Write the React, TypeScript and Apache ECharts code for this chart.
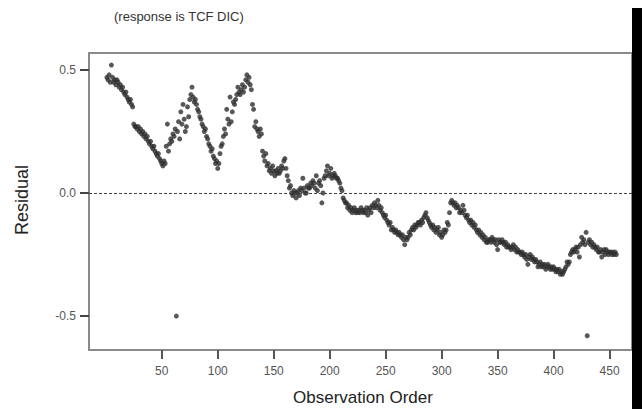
import React, { useEffect, useRef } from "react";
import * as echarts from "echarts";

// Residuals, observation order 1..456, in blocks of 50
const resA = [
  0.47, 0.46, 0.48, 0.45, 0.52, 0.47, 0.45, 0.46, 0.44, 0.46,
  0.45, 0.43, 0.44, 0.42, 0.43, 0.41, 0.40, 0.41, 0.39, 0.38,
  0.37, 0.38, 0.36, 0.35, 0.28, 0.27, 0.27, 0.26, 0.27, 0.25,
  0.26, 0.24, 0.25, 0.23, 0.24, 0.22, 0.23, 0.21, 0.20, 0.21,
  0.19, 0.18, 0.19, 0.17, 0.16, 0.15, 0.16, 0.14, 0.13, 0.12,
];
const resB = [
  0.11, 0.13, 0.12, 0.19, 0.28, 0.17, 0.20, 0.22, 0.21, 0.24,
  0.23, 0.26, -0.50, 0.25, 0.29, 0.22, 0.33, 0.28, 0.36, 0.30,
  0.25, 0.27, 0.35, 0.31, 0.38, 0.40, 0.43, 0.39, 0.37, 0.38,
  0.36, 0.34, 0.33, 0.31, 0.30, 0.28, 0.27, 0.25, 0.26, 0.23,
  0.22, 0.20, 0.19, 0.17, 0.18, 0.15, 0.14, 0.12, 0.13, 0.10,
];
const resC = [
  0.12, 0.16, 0.19, 0.20, 0.23, 0.26, 0.24, 0.34, 0.30, 0.28,
  0.39, 0.29, 0.33, 0.37, 0.36, 0.38, 0.40, 0.43, 0.41, 0.40,
  0.42, 0.44, 0.41, 0.43, 0.46, 0.48, 0.45, 0.47, 0.44, 0.42,
  0.36, 0.34, 0.27, 0.29, 0.26, 0.25, 0.23, 0.26, 0.24, 0.17,
  0.15, 0.13, 0.16, 0.11, 0.12, 0.09, 0.10, 0.08, 0.11, 0.09,
];
const resD = [
  0.07, 0.09, 0.08, 0.10, 0.08, 0.09, 0.11, 0.10, 0.13, 0.14,
  0.10, 0.07, 0.05, 0.02, 0.03, 0.00, -0.01, 0.01, 0.00, -0.02,
  0.00, 0.01, -0.01, 0.02, 0.01, 0.06, 0.02, 0.00, 0.00, 0.03,
  0.02, 0.02, 0.04, 0.03, 0.05, 0.04, 0.02, 0.07, 0.01, 0.04,
  0.05, 0.03, -0.04, 0.00, 0.06, 0.07, 0.09, 0.11, 0.07, 0.08,
];
const resE = [
  0.10, 0.06, 0.07, 0.08, 0.07, 0.06, 0.06, 0.05, 0.04, 0.02,
  0.01, -0.02, -0.03, -0.04, -0.04, -0.06, -0.05, -0.07, -0.06, -0.08,
  -0.07, -0.06, -0.08, -0.07, -0.08, -0.07, -0.08, -0.06, -0.07, -0.08,
  -0.07, -0.08, -0.06, -0.09, -0.07, -0.06, -0.08, -0.05, -0.06, -0.04,
  -0.05, -0.06, -0.03, -0.05, -0.07, -0.06, -0.08, -0.09, -0.10, -0.09,
];
const resF = [
  -0.11, -0.12, -0.13, -0.12, -0.15, -0.14, -0.15, -0.16, -0.15, -0.16,
  -0.17, -0.16, -0.17, -0.18, -0.17, -0.19, -0.21, -0.18, -0.19, -0.18,
  -0.16, -0.17, -0.15, -0.14, -0.15, -0.13, -0.14, -0.13, -0.12, -0.12,
  -0.13, -0.11, -0.12, -0.10, -0.09, -0.08, -0.10, -0.11, -0.12, -0.13,
  -0.14, -0.13, -0.15, -0.14, -0.16, -0.15, -0.14, -0.17, -0.16, -0.18,
];
const resG = [
  -0.17, -0.15, -0.16, -0.15, -0.12, -0.13, -0.08, -0.04, -0.03, -0.04,
  -0.05, -0.04, -0.06, -0.05, -0.06, -0.08, -0.07, -0.08, -0.05, -0.07,
  -0.09, -0.10, -0.09, -0.11, -0.12, -0.11, -0.13, -0.12, -0.14, -0.13,
  -0.15, -0.16, -0.15, -0.17, -0.16, -0.18, -0.17, -0.19, -0.18, -0.20,
  -0.20, -0.19, -0.19, -0.20, -0.18, -0.19, -0.20, -0.19, -0.21, -0.23,
];
const resH = [
  -0.19, -0.20, -0.20, -0.19, -0.20, -0.21, -0.20, -0.22, -0.21, -0.22,
  -0.22, -0.23, -0.22, -0.21, -0.23, -0.22, -0.24, -0.23, -0.24, -0.24,
  -0.25, -0.24, -0.25, -0.26, -0.25, -0.27, -0.29, -0.26, -0.25, -0.27,
  -0.26, -0.27, -0.28, -0.27, -0.28, -0.30, -0.29, -0.28, -0.30, -0.29,
  -0.30, -0.29, -0.31, -0.30, -0.29, -0.30, -0.31, -0.30, -0.31, -0.30,
];
const resI = [
  -0.31, -0.32, -0.31, -0.32, -0.31, -0.33, -0.32, -0.33, -0.32, -0.31,
  -0.30, -0.28, -0.29, -0.28, -0.25, -0.24, -0.23, -0.24, -0.23, -0.22,
  -0.24, -0.22, -0.26, -0.21, -0.18, -0.20, -0.19, -0.21, -0.16, -0.58,
  -0.20, -0.19, -0.21, -0.20, -0.22, -0.21, -0.22, -0.23, -0.22, -0.24,
  -0.24, -0.23, -0.26, -0.24, -0.23, -0.25, -0.23, -0.24, -0.25, -0.24,
  -0.24, -0.25, -0.24, -0.25, -0.24, -0.25,
];

const xTicks = [50, 100, 150, 200, 250, 300, 350, 400, 450];
const yTicks = [-0.5, 0.0, 0.5];
const titleText = "(response is TCF DIC)";
const xName = "Observation Order";
const yName = "Residual";

const residuals = [
  ...resA, ...resB, ...resC, ...resD, ...resE, ...resF, ...resG, ...resH, ...resI,
];

export default function App() {
  const ref = useRef<HTMLDivElement>(null);
  useEffect(() => {
    if (!ref.current) return;
    const chart = echarts.init(ref.current, null, { renderer: "svg" });
    const font = "'Liberation Sans', Arial, sans-serif";
    chart.setOption({
      animation: false,
      backgroundColor: "#ffffff",
      grid: {
        left: 89,
        right: 10,
        top: 53,
        bottom: 59,
        show: true,
        borderColor: "#8a8a8a",
        borderWidth: 2,
      },
      xAxis: {
        type: "value",
        min: -15,
        max: 470,
        axisLine: { show: true, onZero: false, lineStyle: { color: "#8a8a8a", width: 2 } },
        axisTick: {
          show: true,
          customValues: xTicks,
          length: 9,
          lineStyle: { color: "#555", width: 2 },
        },
        axisLabel: {
          customValues: xTicks,
          margin: 15,
          color: "#555",
          fontSize: 12,
          fontFamily: font,
        },
        splitLine: { show: false },
      },
      yAxis: {
        type: "value",
        min: -0.638,
        max: 0.569,
        axisLine: { show: true, onZero: false, lineStyle: { color: "#8a8a8a", width: 2 } },
        axisTick: {
          show: true,
          customValues: yTicks,
          length: 9,
          lineStyle: { color: "#444", width: 2 },
        },
        axisLabel: {
          customValues: yTicks,
          margin: 13,
          color: "#555",
          fontSize: 12,
          fontFamily: font,
          formatter: (v: number) => v.toFixed(1),
        },
        splitLine: { show: false },
      },
      series: [
        {
          type: "scatter",
          symbol: "circle",
          symbolSize: 5,
          itemStyle: { color: "#2e2e2e" },
          data: residuals.map((v, i) => [i + 1, v]),
          markLine: {
            silent: true,
            symbol: "none",
            label: { show: false },
            lineStyle: { color: "#444", width: 1, type: [3, 2] },
            data: [{ yAxis: 0 }],
          },
        },
      ],
      graphic: [
        {
          type: "text",
          left: 114,
          top: 10,
          style: { text: titleText, fontSize: 13, fontFamily: font, fill: "#333" },
        },
        {
          type: "text",
          x: 363,
          y: 397,
          style: {
            text: xName,
            fontSize: 17,
            fontFamily: font,
            fill: "#222",
            align: "center",
            verticalAlign: "middle",
          },
        },
        {
          type: "text",
          x: 22,
          y: 200,
          rotation: Math.PI / 2,
          style: {
            text: yName,
            fontSize: 18,
            fontFamily: font,
            fill: "#222",
            align: "center",
            verticalAlign: "middle",
          },
        },
        {
          type: "rect",
          z: 100,
          shape: { x: 632, y: 8, width: 10, height: 401 },
          style: { fill: "#000" },
        },
      ],
    });
    return () => chart.dispose();
  }, []);
  return (
    <div
      ref={ref}
      style={{ position: "absolute", left: 0, top: 0, width: 642, height: 409 }}
    />
  );
}
